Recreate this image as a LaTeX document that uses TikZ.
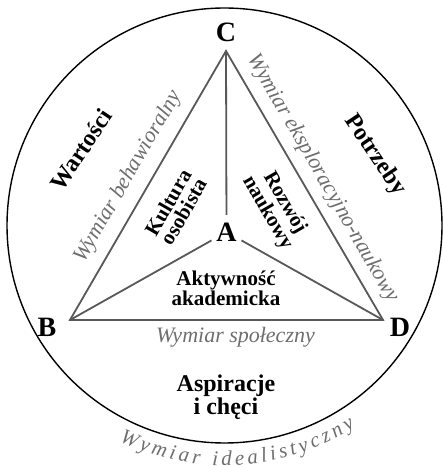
\documentclass[tikz,border=0pt]{standalone}
\usepackage{fontspec}
\setmainfont{Liberation Serif}
\usetikzlibrary{decorations.text}
\definecolor{linegray}{RGB}{88,88,88}
\definecolor{txtgray}{RGB}{110,110,110}
\tikzset{
  vlabel/.style={font=\fontsize{28}{28}\selectfont\bfseries, inner sep=0pt},
  regiontext/.style={font=\fontsize{24}{21}\selectfont\bfseries, align=center, inner sep=0pt},
  midtext/.style={font=\fontsize{21}{18}\selectfont\bfseries, align=center, inner sep=0pt},
  dimlabel/.style={font=\fontsize{22}{22}\selectfont\itshape, text=txtgray, inner sep=0pt},
  tri/.style={draw=linegray, line width=1.8pt},
}
\begin{document}
\begin{tikzpicture}[x=1pt,y=1pt]
\useasboundingbox (0,0) rectangle (443,466);
\coordinate (O) at (224.5,240.5);
\draw[line width=1.4pt] (O) circle[radius=217.5pt];
\coordinate (C) at (226,415);
\coordinate (B) at (70,146);
\coordinate (D) at (383,146);
\node[circle, minimum size=34pt, inner sep=0pt, font=\fontsize{28}{28}\selectfont\bfseries] (A) at (226.5,234) {A};
\draw[tri, line join=miter] (B) -- (C) -- (D) -- cycle;
\draw[tri] (C) -- (A);
\draw[tri] (A) -- (B);
\draw[tri] (A) -- (D);
\node[vlabel] (Clab) at (226,434) {C};
\node[vlabel] (Blab) at (47,139) {B};
\node[vlabel] (Dlab) at (400,139) {D};
\node[regiontext, rotate=56] (war) at (81,316) {Wartości};
\node[regiontext, rotate=-56] (pot) at (375,311) {Potrzeby};
\node[regiontext] (asp) at (226,69) {Aspiracje\\i chęci};
\node[midtext] (akt) at (226,178) {Aktywność\\akademicka};
\node[midtext, rotate=60] (kul) at (176,259) {Kultura\\osobista};
\node[midtext, rotate=-60] (roz) at (276,258) {Rozwój\\naukowy};
\node[dimlabel, rotate=60] (wb) at (128.5,289.5) {Wymiar behawioralny};
\node[dimlabel, rotate=-60] (we) at (323,287.5) {Wymiar eksploracyjno-naukowy};
\node[dimlabel, anchor=base] (ws) at (235.5,123.3) {Wymiar społeczny};
\path[decorate, decoration={text along path, text align={fit to path},
  text={|\fontsize{21}{21}\selectfont\itshape\color{txtgray}|Wymiar idealistyczny}}]
  ([shift={(244:240pt)}]O) arc[start angle=244, end angle=303, radius=240pt];
\end{tikzpicture}
\end{document}
